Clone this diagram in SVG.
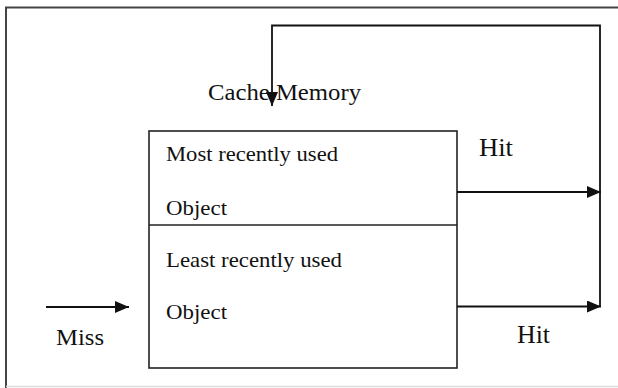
<svg xmlns="http://www.w3.org/2000/svg" width="618" height="388" viewBox="0 0 618 388">
<defs>
<style>
.t{font-family:"Liberation Serif","Times New Roman",serif;fill:#111;}
.box{fill:#fff;stroke:#222;stroke-width:1.6;}
.c{fill:none;stroke:#111;stroke-width:1.8;}
</style>
<marker id="ah" markerWidth="15" markerHeight="12" refX="14" refY="6" orient="auto" markerUnits="userSpaceOnUse">
<path d="M0,0 L14,6 L0,12 Z" fill="#111"/>
</marker>
</defs>
<rect width="618" height="388" fill="#fff"/>
<path d="M6,388 V7.5 H618" fill="none" stroke="#444" stroke-width="2"/>
<line x1="6" y1="386.5" x2="618" y2="386.5" stroke="#ddd" stroke-width="1.5"/>
<g id="cache">
<rect class="box" x="149" y="131" width="308" height="237"/>
<line x1="149" y1="225" x2="457" y2="225" stroke="#222" stroke-width="1.6"/>
<text class="t" x="208" y="100" font-size="24" textLength="153" lengthAdjust="spacingAndGlyphs">Cache Memory</text>
</g>
<g id="mru">
<text class="t" x="166" y="161" font-size="22" textLength="172" lengthAdjust="spacingAndGlyphs">Most recently used</text>
<text class="t" x="166" y="215" font-size="22" textLength="61" lengthAdjust="spacingAndGlyphs">Object</text>
</g>
<g id="lru">
<text class="t" x="166" y="267" font-size="22" textLength="176" lengthAdjust="spacingAndGlyphs">Least recently used</text>
<text class="t" x="166" y="319" font-size="22" textLength="61" lengthAdjust="spacingAndGlyphs">Object</text>
</g>
<g id="connectors">
<polyline class="c" points="600,306.5 600,25.5 272,25.5 272,106" marker-end="url(#ah)"/>
<line class="c" x1="457" y1="192" x2="601" y2="192" marker-end="url(#ah)"/>
<line class="c" x1="457" y1="306.5" x2="601" y2="306.5" marker-end="url(#ah)"/>
<line class="c" x1="46" y1="307" x2="129" y2="307" marker-end="url(#ah)"/>
</g>
<g id="labels">
<text class="t" x="479" y="156" font-size="25" textLength="34" lengthAdjust="spacingAndGlyphs">Hit</text>
<text class="t" x="517" y="343" font-size="25" textLength="33" lengthAdjust="spacingAndGlyphs">Hit</text>
<text class="t" x="56" y="345" font-size="24" textLength="48" lengthAdjust="spacingAndGlyphs">Miss</text>
</g>
</svg>
